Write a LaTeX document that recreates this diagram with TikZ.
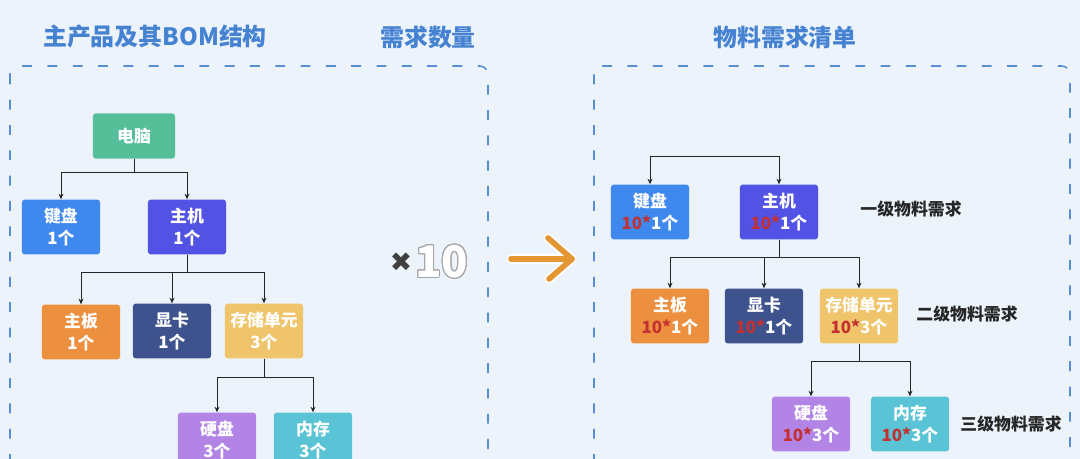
\documentclass[tikz,border=0pt]{standalone}
\usepackage{fontspec}
\setmainfont{Noto Sans CJK SC}
\newfontfamily\symfont{DejaVu Sans}
\usepackage{contour}
\usetikzlibrary{arrows.meta}
\definecolor{bgBlue}{RGB}{236, 243, 250}
\definecolor{frameBlue}{RGB}{88, 143, 212}
\definecolor{titleBlue}{RGB}{70, 130, 210}
\definecolor{pcGreen}{RGB}{86, 190, 152}
\definecolor{kbBlue}{RGB}{62, 136, 238}
\definecolor{hostIndigo}{RGB}{82, 82, 228}
\definecolor{boardOrange}{RGB}{236, 143, 62}
\definecolor{gpuNavy}{RGB}{62, 82, 142}
\definecolor{storYellow}{RGB}{240, 196, 106}
\definecolor{hddPurple}{RGB}{178, 132, 230}
\definecolor{ramCyan}{RGB}{90, 196, 214}
\definecolor{numRed}{RGB}{196, 48, 48}
\definecolor{arrowOrange}{RGB}{228, 150, 50}
\contourlength{0.7pt}
\tikzset{
  item/.style={rounded corners=2pt, minimum width=1.95cm, minimum height=1.37cm,
    inner sep=0pt, text=white, align=center, font=\fontsize{12}{15.5}\selectfont\bfseries},
  link/.style={semithick, black!85, -{Stealth[length=4pt,width=3.5pt]}},
  frame/.style={frameBlue, line width=1.1pt, dash pattern=on 7pt off 11pt, rounded corners=6pt},
  title/.style={titleBlue, font=\fontsize{17}{20}\selectfont\bfseries},
  level/.style={black!85, font=\fontsize{12}{14}\selectfont\bfseries}
}
\begin{document}
\begin{tikzpicture}[x=0.025cm, y=-0.025cm]
        \useasboundingbox (0,0) rectangle (1080,459);
        \clip (0,0) rectangle (1080,459);
        \fill[bgBlue] (0,0) rectangle (1080,459);

        % Titles
        \node[title] (t1) at (155,37) {主产品及其BOM结构};
        \node[title] (t2) at (428,37) {需求数量};
        \node[title] (t3) at (785,37) {物料需求清单};

        % Frames
        \draw[frame] (10,66) rectangle (488,520);
        \draw[frame] (594,66) rectangle (1070,520);

        % Product structure
        \node[item, fill=pcGreen, minimum width=2.05cm, minimum height=1.13cm] (pc) at (134,136) {电脑};
        \node[item, fill=kbBlue] (kb) at (61,227) {键盘\\1个};
        \node[item, fill=hostIndigo] (host) at (187,227) {主机\\1个};
        \node[item, fill=boardOrange] (board) at (81,332) {主板\\1个};
        \node[item, fill=gpuNavy] (gpu) at (172,331) {显卡\\1个};
        \node[item, fill=storYellow] (stor) at (264,331) {存储单元\\3个};
        \node[item, fill=hddPurple] (hdd) at (217,440) {硬盘\\3个};
        \node[item, fill=ramCyan] (ram) at (313,440) {内存\\3个};

        \draw[link] (pc.south) -- ++(0,14) -| (kb.north);
        \draw[link] (pc.south) -- ++(0,14) -| (host.north);
        \draw[link] (host.south) -- ++(0,18) -| (board.north);
        \draw[link] (host.south) -- ++(0,18) -| (gpu.north);
        \draw[link] (host.south) -- ++(0,18) -| (stor.north);
        \draw[link] (stor.south) -- ++(0,19) -| (hdd.north);
        \draw[link] (stor.south) -- ++(0,19) -| (ram.north);

        % Quantity
        \node[black!75, font=\fontsize{19}{22}\selectfont\symfont] (times) at (401,262) {✖};
        \node[font=\fontsize{31}{34}\selectfont\bfseries, right=-5pt] (ten) at (times.east) {\contour{black!35}{\textcolor{white}{10}}};

        % Arrow
        \draw[white, line width=6.5pt, line cap=round, line join=round] (511,259) -- (572,259);
        \draw[white, line width=6.5pt, line cap=round, line join=round] (548,238) -- (572,259) -- (549,279);
        \draw[arrowOrange, line width=4pt, line cap=round, line join=round] (511,259) -- (572,259);
        \draw[arrowOrange, line width=4pt, line cap=round, line join=round] (548,238) -- (572,259) -- (549,279);

        % Material requirements
        \node[item, fill=kbBlue] (kb2) at (650,212) {键盘\\\textcolor{numRed}{10*}1个};
        \node[item, fill=hostIndigo] (host2) at (779,212) {主机\\\textcolor{numRed}{10*}1个};
        \node[item, fill=boardOrange] (board2) at (670,316) {主板\\\textcolor{numRed}{10*}1个};
        \node[item, fill=gpuNavy] (gpu2) at (764,316) {显卡\\\textcolor{numRed}{10*}1个};
        \node[item, fill=storYellow] (stor2) at (859,316) {存储单元\\\textcolor{numRed}{10*}3个};
        \node[item, fill=hddPurple] (hdd2) at (811,424) {硬盘\\\textcolor{numRed}{10*}3个};
        \node[item, fill=ramCyan] (ram2) at (910,424) {内存\\\textcolor{numRed}{10*}3个};

        \draw[link, {Stealth[length=4pt,width=3.5pt]}-{Stealth[length=4pt,width=3.5pt]}] (kb2.north) -- ++(0,-28) -| (host2.north);
        \draw[link] (host2.south) -- ++(0,18) -| (board2.north);
        \draw[link] (host2.south) -- ++(0,18) -| (gpu2.north);
        \draw[link] (host2.south) -- ++(0,18) -| (stor2.north);
        \draw[link] (stor2.south) -- ++(0,18) -| (hdd2.north);
        \draw[link] (stor2.south) -- ++(0,18) -| (ram2.north);

        % Levels
        \node[level] (lvl1) at (911,209) {一级物料需求};
        \node[level] (lvl2) at (967,314) {二级物料需求};
        \node[level] (lvl3) at (1011,424) {三级物料需求};
      \end{tikzpicture}
\end{document}
